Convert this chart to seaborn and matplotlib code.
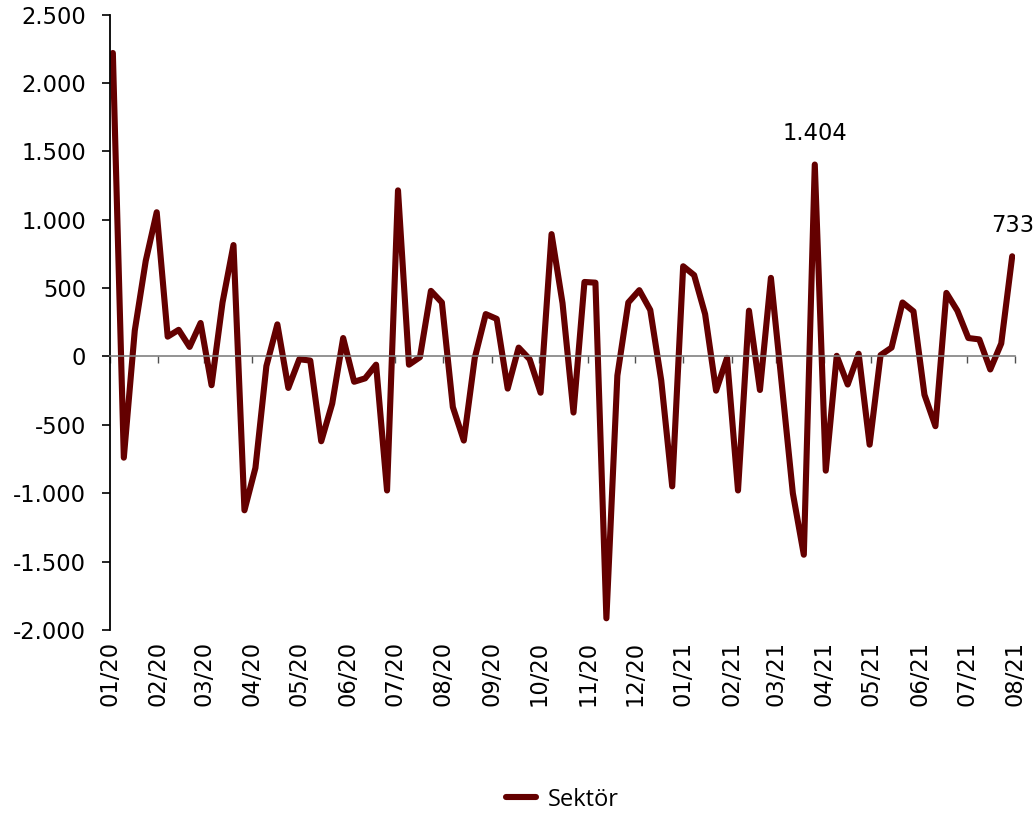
import seaborn as sns
import matplotlib.pyplot as plt
import matplotlib.dates as mdates
import matplotlib.ticker as mticker
import pandas as pd

# Weekly values
values = [
    2220, -740, 190, 700, 1055, 145, 195, 70, 245, -210,
    395, 815, -1125, -815, -70, 235, -230, -20, -30, -620,
    -345, 135, -185, -160, -60, -980, 1215, -60, -5, 480,
    395, -370, -615, -10, 310, 275, -235, 65, -20, -265,
    895, 390, -410, 545, 540, -1915, -140, 395, 485, 340,
    -175, -950, 660, 595, 310, -250, -10, -980, 335, -245,
    575, -210, -1000, -1450, 1404, -835, 5, -205, 20, -645,
    10, 65, 395, 330, -280, -510, 465, 335, 135, 125,
    -95, 95, 733,
]
dates = pd.date_range("2020-01-03", periods=len(values), freq="7D")
series_name = "Sektör"
labelled = {1404: "1.404", 733: "733"}

df = pd.DataFrame({"date": dates, "value": values})

sns.set_style("white")
plt.rcParams["font.family"] = ["DejaVu Sans"]
plt.rcParams["text.color"] = "black"
plt.rcParams["xtick.color"] = "black"
plt.rcParams["ytick.color"] = "black"

fig = plt.figure(figsize=(10.35, 8.17), dpi=100)
ax = fig.add_axes([0.106, 0.229, 0.875, 0.753])

line_color = "#640000"
sns.lineplot(data=df, x="date", y="value", color=line_color, linewidth=4.4,
             label=series_name, ax=ax, solid_joinstyle="round", solid_capstyle="round")

ax.set_ylim(-2000, 2500)
ax.set_xlim(pd.Timestamp("2020-01-01"), pd.Timestamp("2021-08-01"))
ax.yaxis.set_major_locator(mticker.MultipleLocator(500))
ax.yaxis.set_major_formatter(mticker.FuncFormatter(lambda v, p: f"{int(v):,}".replace(",", ".")))
ax.set_xlabel("")
ax.set_ylabel("")

# spines: left axis, zero line as bottom spine
for s in ["top", "right"]:
    ax.spines[s].set_visible(False)
ax.spines["left"].set_color("black")
ax.spines["left"].set_linewidth(1.3)
ax.spines["bottom"].set_position(("data", 0))
ax.spines["bottom"].set_color("#808080")
ax.spines["bottom"].set_linewidth(1.2)

ax.xaxis.set_major_locator(mdates.MonthLocator())
ax.tick_params(axis="x", direction="out", length=5, width=1, color="#505050",
               labelbottom=False, bottom=True)
ax.tick_params(axis="y", direction="out", length=6, width=1.2, color="black",
               left=True, labelsize=16.3, labelcolor="black", pad=11)

# month labels at the bottom of the plot
sec = ax.secondary_xaxis("bottom")
sec.xaxis.set_major_locator(mdates.MonthLocator())
sec.xaxis.set_major_formatter(mdates.DateFormatter("%m/%y"))
sec.spines["bottom"].set_visible(False)
sec.tick_params(axis="x", length=0, labelsize=16.3, labelcolor="black",
                labelrotation=90, pad=8)

# value labels
for d, v in zip(dates, values):
    if v in labelled:
        ax.annotate(labelled[v], (d, v), xytext=(0, 14), textcoords="offset points",
                    ha="center", va="bottom", fontsize=16.3, color="black")

ax.legend(loc="center", bbox_to_anchor=(0.5, -0.276), frameon=False,
          prop={"family": "Open Sans", "size": 17}, handlelength=1.3,
          handletextpad=0.5, labelcolor="black")

fig.savefig("out.png", dpi=100)
